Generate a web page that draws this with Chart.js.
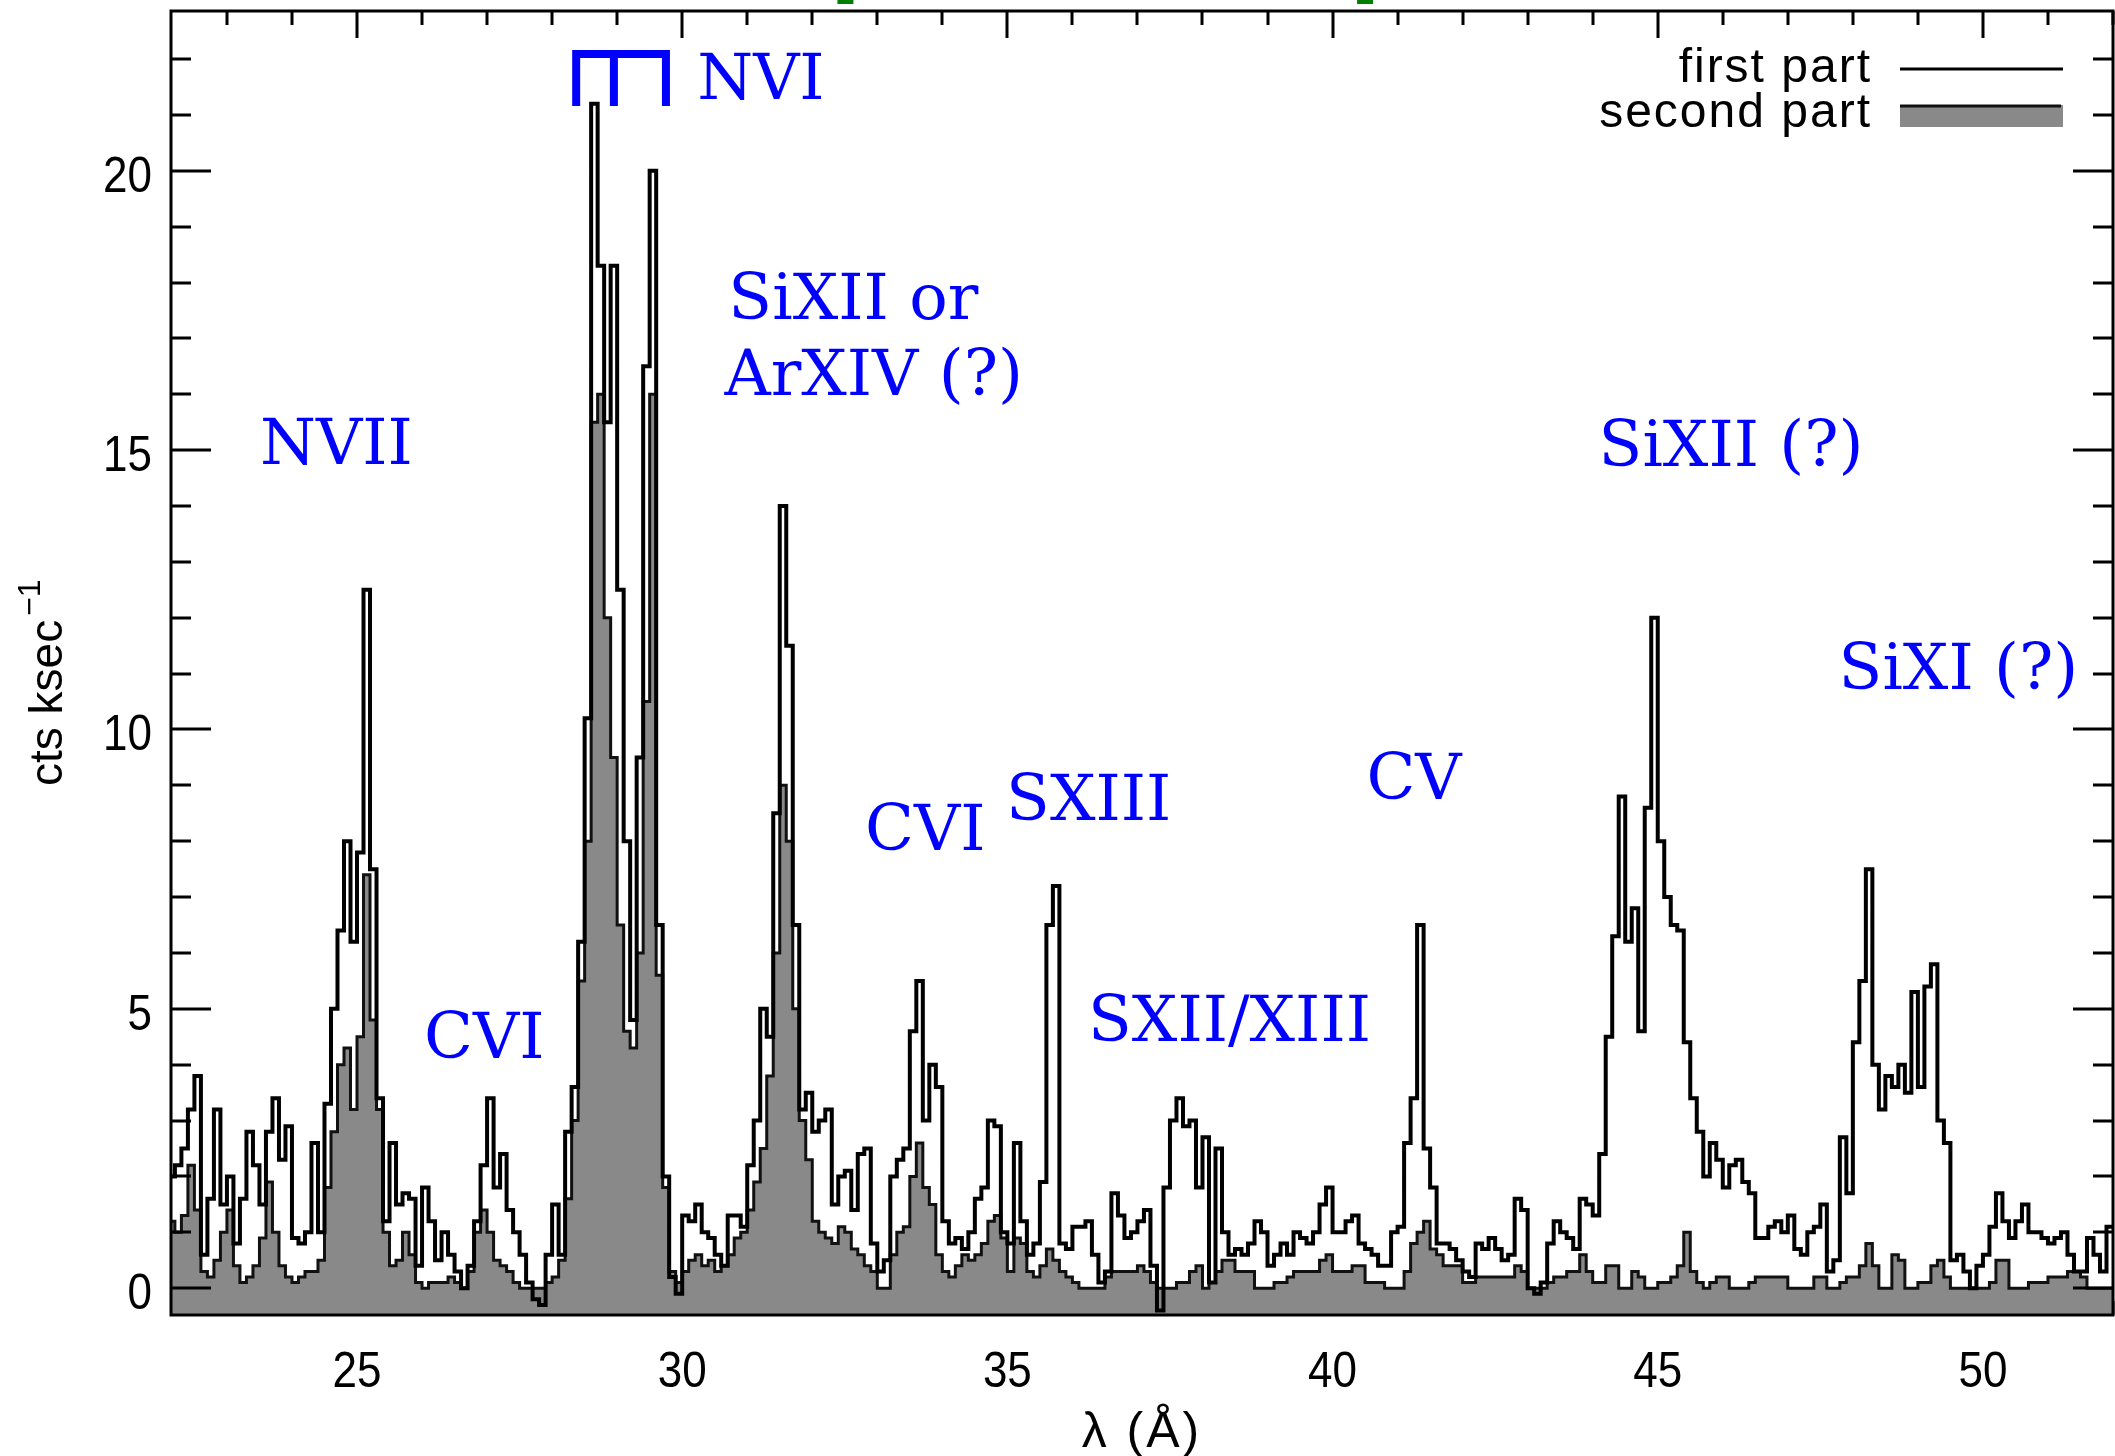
<!DOCTYPE html>
<html>
<head>
<meta charset="utf-8">
<script src="https://cdn.jsdelivr.net/npm/chart.js@4.4.1/dist/chart.umd.min.js"></script>
<style>
  html, body { margin: 0; padding: 0; background: #fff; }
</style>
</head>
<body>
<canvas id="spec" width="2115" height="1456"></canvas>
<script>
// count rate spectrum, 0.1 A bins starting at 22.1 A
const binStart = 22.1;
const binWidth = 0.1;

const firstPart = [
  2.0, 2.2, 2.5, 3.2, 3.8, 0.6, 1.6, 3.2, 1.5,          // 22.1
  2.0, 0.8, 1.6, 2.8, 2.2, 1.5, 2.8, 3.4, 2.3, 2.9,     // 23
  0.9, 0.8, 1.0, 2.6, 1.0, 3.3, 5.0, 6.4, 8.0, 6.2,     // 24
  7.8, 12.5, 7.5, 3.4, 1.2, 2.6, 1.5, 1.7, 1.6, 0.4,    // 25
  1.8, 1.2, 0.5, 1.0, 0.6, 0.3, 0.0, 0.4, 1.2, 2.2,     // 26
  3.4, 1.8, 2.4, 1.4, 1.0, 0.6, 0.1, -0.2, -0.3, 0.6,   // 27
  1.5, 0.6, 2.8, 3.6, 6.2, 10.2, 21.2, 18.3, 15.5, 18.3, // 28
  12.5, 8.0, 4.8, 9.5, 16.5, 20.0, 6.5, 2.0, 0.2, -0.1, // 29
  1.3, 1.2, 1.5, 1.0, 0.9, 0.6, 0.4, 1.3, 1.3, 1.1,     // 30
  2.2, 3.0, 5.0, 4.5, 8.5, 14.0, 11.5, 6.5, 3.2, 3.5,   // 31
  2.8, 3.0, 3.2, 1.5, 2.0, 2.1, 1.4, 2.4, 2.5, 0.8,     // 32
  0.3, 0.5, 2.0, 2.3, 2.5, 4.6, 5.5, 3.0, 4.0, 3.6,     // 33
  1.2, 0.8, 0.9, 0.7, 1.0, 1.6, 1.8, 3.0, 2.9, 1.0,     // 34
  0.8, 2.6, 1.2, 0.6, 0.8, 1.9, 6.5, 7.2, 0.8, 0.7,     // 35
  1.1, 1.1, 1.2, 0.6, 0.1, 0.3, 1.7, 1.3, 0.9, 1.0,     // 36
  1.2, 1.4, 0.4, -0.4, 1.8, 3.0, 3.4, 2.9, 3.0, 1.8,    // 37
  2.7, 0.1, 2.5, 1.0, 0.6, 0.7, 0.6, 0.8, 1.2, 1.0,     // 38
  0.4, 0.6, 0.8, 0.6, 1.0, 0.9, 0.8, 1.0, 1.5, 1.8,     // 39
  1.0, 1.0, 1.2, 1.3, 0.8, 0.7, 0.6, 0.4, 0.4, 1.0,     // 40
  1.1, 2.6, 3.4, 6.5, 2.5, 1.8, 0.8, 0.8, 0.7, 0.5,     // 41
  0.3, 0.2, 0.8, 0.7, 0.9, 0.7, 0.5, 0.6, 1.6, 1.4,     // 42
  0.0, -0.1, 0.1, 0.8, 1.2, 1.0, 0.9, 0.7, 1.6, 1.5,    // 43
  1.3, 2.4, 4.5, 6.3, 8.8, 6.2, 6.8, 4.6, 8.6, 12.0,    // 44
  8.0, 7.0, 6.5, 6.4, 4.4, 3.4, 2.8, 2.0, 2.6, 2.3,     // 45
  1.8, 2.2, 2.3, 1.9, 1.7, 0.9, 0.9, 1.1, 1.2, 1.0,     // 46
  1.3, 0.7, 0.6, 1.0, 1.1, 1.5, 0.3, 0.5, 2.7, 1.7,     // 47
  4.4, 5.5, 7.5, 4.0, 3.2, 3.8, 3.6, 4.0, 3.5, 5.3,     // 48
  3.6, 5.4, 5.8, 3.0, 2.6, 0.5, 0.6, 0.3, 0.0, 0.4,     // 49
  0.6, 1.1, 1.7, 1.2, 0.9, 1.2, 1.5, 1.0, 1.0, 0.9,     // 50
  0.8, 0.9, 1.0, 0.6, 0.3, 0.3, 0.9, 0.6, 0.3, 1.1      // 51
];

const secondPart = [
  1.2, 1.0, 1.3, 2.2, 1.4, 0.3, 0.2, 0.5, 1.0,          // 22.1
  1.4, 0.4, 0.1, 0.2, 0.4, 0.9, 1.9, 1.0, 0.4, 0.2,     // 23
  0.1, 0.2, 0.3, 0.3, 0.5, 1.8, 2.8, 4.0, 4.3, 3.2,     // 24
  4.5, 7.4, 4.8, 3.2, 1.0, 0.4, 0.5, 1.0, 0.6, 0.1,     // 25
  0.0, 0.1, 0.1, 0.1, 0.2, 0.1, 0.0, 0.3, 1.0, 1.4,     // 26
  1.0, 0.5, 0.4, 0.3, 0.1, 0.0, 0.0, 0.0, 0.0, 0.1,     // 27
  0.2, 0.5, 1.6, 3.0, 5.5, 8.0, 15.5, 16.0, 12.0, 9.5,  // 28
  6.5, 4.6, 4.3, 6.0, 10.5, 16.0, 5.6, 1.8, 0.3, 0.1,   // 29
  0.3, 0.5, 0.6, 0.4, 0.5, 0.3, 0.4, 0.6, 0.9, 1.0,     // 30
  1.4, 1.9, 2.5, 3.8, 6.0, 9.0, 8.0, 5.0, 3.0, 2.3,     // 31
  1.2, 1.0, 0.9, 0.8, 1.1, 1.0, 0.7, 0.6, 0.4, 0.3,     // 32
  0.0, 0.0, 0.6, 1.0, 1.1, 2.0, 2.6, 1.8, 1.5, 0.6,     // 33
  0.3, 0.2, 0.4, 0.6, 0.5, 0.6, 0.8, 1.2, 1.3, 0.9,     // 34
  0.3, 0.9, 0.8, 0.3, 0.2, 0.4, 0.7, 0.5, 0.3, 0.2,     // 35
  0.1, 0.0, 0.0, 0.0, 0.0, 0.2, 0.3, 0.3, 0.3, 0.3,     // 36
  0.4, 0.3, 0.1, 0.0, 0.0, 0.0, 0.1, 0.1, 0.3, 0.4,     // 37
  0.0, 0.1, 0.3, 0.5, 0.5, 0.3, 0.3, 0.3, 0.0, 0.0,     // 38
  0.0, 0.1, 0.1, 0.2, 0.3, 0.3, 0.3, 0.3, 0.5, 0.6,     // 39
  0.3, 0.3, 0.3, 0.4, 0.4, 0.1, 0.1, 0.1, 0.0, 0.0,     // 40
  0.0, 0.3, 0.8, 1.0, 1.2, 0.7, 0.6, 0.4, 0.4, 0.4,     // 41
  0.1, 0.1, 0.2, 0.2, 0.2, 0.2, 0.2, 0.2, 0.4, 0.3,     // 42
  0.0, 0.0, 0.0, 0.1, 0.2, 0.2, 0.3, 0.3, 0.6, 0.3,     // 43
  0.1, 0.1, 0.4, 0.4, 0.0, 0.0, 0.3, 0.2, 0.0, 0.0,     // 44
  0.1, 0.1, 0.2, 0.4, 1.0, 0.3, 0.1, 0.0, 0.1, 0.2,     // 45
  0.2, 0.0, 0.0, 0.0, 0.1, 0.2, 0.2, 0.2, 0.2, 0.2,     // 46
  0.0, 0.0, 0.0, 0.0, 0.2, 0.2, 0.0, 0.0, 0.1, 0.2,     // 47
  0.2, 0.4, 0.8, 0.4, 0.0, 0.0, 0.6, 0.5, 0.0, 0.0,     // 48
  0.1, 0.1, 0.4, 0.5, 0.2, 0.0, 0.0, 0.0, 0.0, 0.0,     // 49
  0.0, 0.1, 0.5, 0.5, 0.0, 0.0, 0.0, 0.1, 0.1, 0.1,     // 50
  0.2, 0.2, 0.2, 0.3, 0.3, 0.2, 0.0, 0.0, 0.0, 0.0      // 51
];

const xTickLabels = [25, 30, 35, 40, 45, 50];
const yTickLabels = [0, 5, 10, 15, 20];

// line identifications, anchored in data coords (left edge, baseline)
const lineIds = [
  { text: 'NVII', x: 23.51, y: 14.75 },
  { text: 'NVI', x: 30.23, y: 21.29 },
  { text: 'SiXII or', x: 30.71, y: 17.35 },
  { text: 'ArXIV (?)', x: 30.65, y: 15.99 },
  { text: 'CVI', x: 26.03, y: 4.12 },
  { text: 'CVI', x: 32.81, y: 7.84 },
  { text: 'SXIII', x: 34.98, y: 8.38 },
  { text: 'SXII/XIII', x: 36.24, y: 4.43 },
  { text: 'CV', x: 40.52, y: 8.75 },
  { text: 'SiXII (?)', x: 44.09, y: 14.72 },
  { text: 'SiXI (?)', x: 47.78, y: 10.73 }
];
const nviTriplet = [28.37, 28.95, 29.75];
const topMarks = [32.51, 40.5];

// points at bin left edges plus a closing edge; 'before' holds each value across its bin
function toSteps(values) {
  const pts = values.map((v, i) => ({ x: +(binStart + i * binWidth).toFixed(2), y: v }));
  pts.push({ x: +(binStart + values.length * binWidth).toFixed(2), y: values[values.length - 1] });
  return pts;
}

const TICK_FONT = '50px "Liberation Sans", Arial, sans-serif';
const LBL_FONT = '64px "DejaVu Serif", serif';

function txt(ctx, s, x, y, o) {
  ctx.save();
  ctx.font = o.font;
  ctx.fillStyle = o.color || '#000';
  ctx.textAlign = o.align || 'left';
  ctx.textBaseline = 'alphabetic';
  if (o.spacing) ctx.letterSpacing = o.spacing + 'px';
  ctx.translate(x, y);
  if (o.rotate) ctx.rotate(o.rotate);
  ctx.scale(o.sx || 1, 1);
  ctx.fillText(s, 0, 0);
  ctx.restore();
}

// ticks on the lower axis sit under the histogram
const underTicks = {
  id: 'underTicks',
  beforeDatasetsDraw(chart) {
    const { ctx, chartArea: a, scales: { x } } = chart;
    ctx.save();
    ctx.strokeStyle = '#000';
    ctx.lineWidth = 3;
    ctx.beginPath();
    for (let w = Math.ceil(x.min); w <= x.max; w++) {
      const px = Math.round(x.getPixelForValue(w));
      const len = w % 5 === 0 ? 27 : 14;
      ctx.moveTo(px, a.bottom);
      ctx.lineTo(px, a.bottom - len);
    }
    ctx.stroke();
    ctx.restore();
  }
};

const decor = {
  id: 'decor',
  afterDatasetsDraw(chart) {
    const { ctx, chartArea: a, scales: { x, y } } = chart;
    ctx.save();
    ctx.strokeStyle = '#000';
    ctx.lineWidth = 3;
    ctx.strokeRect(a.left, a.top, a.right - a.left, a.bottom - a.top);

    ctx.beginPath();
    for (let w = Math.ceil(x.min); w <= x.max; w++) {
      const px = Math.round(x.getPixelForValue(w));
      const len = w % 5 === 0 ? 27 : 14;
      ctx.moveTo(px, a.top);
      ctx.lineTo(px, a.top + len);
    }
    for (let v = Math.ceil(y.min); v <= y.max; v++) {
      const py = Math.round(y.getPixelForValue(v));
      const len = v % 5 === 0 ? 40 : 20;
      ctx.moveTo(a.left, py);
      ctx.lineTo(a.left + len, py);
      ctx.moveTo(a.right, py);
      ctx.lineTo(a.right - len, py);
    }
    ctx.stroke();

    // tick labels
    xTickLabels.forEach(t => {
      txt(ctx, String(t), x.getPixelForValue(t), a.bottom + 72, { font: TICK_FONT, align: 'center', sx: 0.88 });
    });
    yTickLabels.forEach(t => {
      txt(ctx, String(t), a.left - 19, y.getPixelForValue(t) + 21, { font: TICK_FONT, align: 'right', sx: 0.88 });
    });

    // axis titles
    txt(ctx, 'λ (Å)', (a.left + a.right) / 2, 1447, { font: TICK_FONT, align: 'center', spacing: 3 });
    const yFont = '46px "Liberation Sans", Arial, sans-serif';
    ctx.save();
    ctx.font = yFont;
    const w = ctx.measureText('cts ksec').width;
    ctx.restore();
    txt(ctx, 'cts ksec', 62, 786, { font: yFont, rotate: -Math.PI / 2 });
    txt(ctx, '−1', 40, 786 - w - 4, { font: '32px "Liberation Sans", Arial, sans-serif', rotate: -Math.PI / 2 });

    // legend
    const ds = chart.data.datasets;
    const lx0 = a.right - 213, lx1 = a.right - 50;
    txt(ctx, ds[0].label, a.left + 1701, 82, { font: '48px "Liberation Sans", Arial, sans-serif', align: 'right', spacing: 2 });
    txt(ctx, ds[1].label, a.left + 1701, 127, { font: '48px "Liberation Sans", Arial, sans-serif', align: 'right', spacing: 2 });
    ctx.strokeStyle = ds[0].borderColor;
    ctx.lineWidth = 3;
    ctx.beginPath();
    ctx.moveTo(lx0, 69);
    ctx.lineTo(lx1, 69);
    ctx.stroke();
    ctx.fillStyle = ds[1].backgroundColor;
    ctx.fillRect(lx0, 105, lx1 - lx0, 22);
    ctx.strokeStyle = ds[1].borderColor;
    ctx.beginPath();
    ctx.moveTo(lx0, 106);
    ctx.lineTo(lx1 - 2, 106);
    ctx.stroke();

    // line ids
    lineIds.forEach(l => {
      txt(ctx, l.text, x.getPixelForValue(l.x), y.getPixelForValue(l.y), { font: LBL_FONT, color: '#0000ff' });
    });
    const yTop = y.getPixelForValue(22.09), yBot = y.getPixelForValue(21.16);
    const [b1, b2, b3] = nviTriplet.map(v => x.getPixelForValue(v));
    ctx.strokeStyle = '#0000ff';
    ctx.lineWidth = 8;
    ctx.lineJoin = 'miter';
    ctx.beginPath();
    ctx.moveTo(b1, yBot);
    ctx.lineTo(b1, yTop);
    ctx.lineTo(b3, yTop);
    ctx.lineTo(b3, yBot);
    ctx.moveTo(b2, yTop);
    ctx.lineTo(b2, yBot);
    ctx.stroke();

    ctx.fillStyle = '#008000';
    topMarks.forEach(m => {
      ctx.fillRect(x.getPixelForValue(m) - 8, 0, 16, 4);
    });
    ctx.restore();
  }
};

new Chart(document.getElementById('spec'), {
  type: 'line',
  data: {
    datasets: [
      {
        label: 'first part',
        data: toSteps(firstPart),
        borderColor: '#000000',
        borderWidth: 4,
        stepped: 'before',
        fill: false,
        pointRadius: 0
      },
      {
        label: 'second part',
        data: toSteps(secondPart),
        borderColor: '#111111',
        backgroundColor: '#898989',
        borderWidth: 3,
        stepped: 'before',
        fill: 'start',
        pointRadius: 0
      }
    ]
  },
  options: {
    responsive: false,
    animation: false,
    devicePixelRatio: 1,
    layout: { padding: { left: 171, right: 2, top: 11, bottom: 141 } },
    scales: {
      x: { type: 'linear', min: 22.14, max: 52, display: false },
      y: { type: 'linear', min: -0.48, max: 22.86, display: false }
    },
    plugins: {
      legend: { display: false },
      tooltip: { enabled: false }
    }
  },
  plugins: [underTicks, decor]
});
</script>
</body>
</html>
